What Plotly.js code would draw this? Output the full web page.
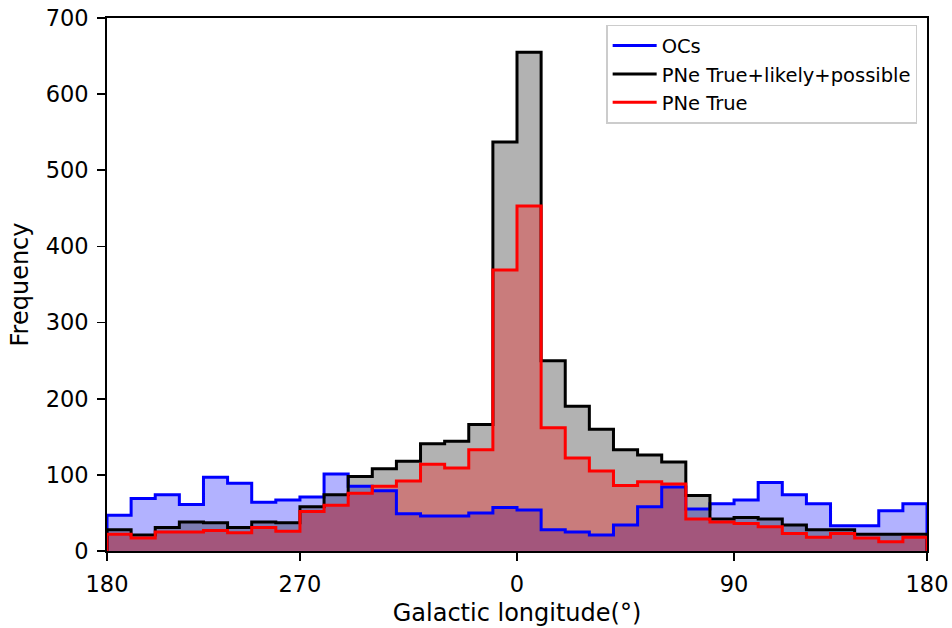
<!DOCTYPE html>
<html>
<head>
<meta charset="utf-8">
<script src="https://cdn.plot.ly/plotly-3.0.1.min.js"></script>
<style>html,body{margin:0;padding:0;background:#fff;}#chart{width:952px;height:628px;}</style>
</head>
<body>
<div id="chart"></div>
<script>
// 34 equal longitude bins, ordered left (l=180) -> right (l=180 wrapped through 270, 0, 90)
const binCount = 34;
const tickPositions = [0, 8, 17, 26, 34];
const tickLabels = ["180", "270", "0", "90", "180"];

const ocCounts = [47, 69, 74, 61, 97, 89, 64, 67, 71, 101, 85, 79, 49, 46, 46, 50, 57,
                  54, 28, 25, 21, 34, 58, 84, 55, 62, 67, 90, 74, 62, 33, 33, 53, 62];
const pneAllCounts = [28, 21, 31, 38, 37, 31, 38, 37, 58, 74, 98, 108, 118, 141, 144, 166, 537,
                      655, 250, 190, 160, 133, 126, 117, 73, 42, 44, 42, 34, 28, 28, 22, 22, 22];
const pneTrueCounts = [22, 17, 25, 25, 27, 24, 31, 26, 52, 60, 76, 85, 92, 114, 109, 133, 369,
                       453, 162, 122, 105, 86, 91, 88, 42, 38, 36, 32, 23, 18, 23, 17, 12, 18];

const seriesNames = ["OCs", "PNe True+likely+possible", "PNe True"];
const lineColors = ["#0000ff", "#000000", "#ff0000"];
const fillColors = ["rgba(0,0,255,0.3)", "rgba(0,0,0,0.3)", "rgba(255,0,0,0.3)"];
const allCounts = [ocCounts, pneAllCounts, pneTrueCounts];

function stepPath(counts) {
  const x = [0];
  const y = [0];
  for (let i = 0; i < counts.length; i++) { x.push(i); y.push(counts[i]); }
  x.push(counts.length); y.push(counts[counts.length - 1]);
  x.push(counts.length); y.push(0);
  return {x, y};
}

const traces = [];
allCounts.forEach((c, i) => {
  const p = stepPath(c);
  traces.push({x: p.x, y: p.y, type: "scatter", mode: "lines", line: {shape: "hv", width: 0, color: lineColors[i]},
    fill: "tozeroy", fillcolor: fillColors[i], showlegend: false, hoverinfo: "skip"});
});
allCounts.forEach((c, i) => {
  const p = stepPath(c);
  traces.push({x: p.x, y: p.y, type: "scatter", mode: "lines", name: seriesNames[i],
    line: {shape: "hv", width: 3, color: lineColors[i]}, showlegend: true});
});

const font = "DejaVu Sans, Verdana, sans-serif";
const axisCommon = {
  showgrid: false, zeroline: false, showline: true, linecolor: "#000", linewidth: 1.8, mirror: true,
  ticks: "outside", ticklen: 8, tickwidth: 1.8, tickcolor: "#000", ticklabelstandoff: 4,
  tickfont: {size: 22.5}
};
const layout = {
  width: 952, height: 628,
  margin: {l: 107, r: 25, t: 18, b: 77},
  paper_bgcolor: "#fff", plot_bgcolor: "#fff",
  font: {family: font, size: 22, color: "#000"},
  xaxis: Object.assign({}, axisCommon, {range: [0, binCount], tickmode: "array", tickvals: tickPositions, ticktext: tickLabels,
    title: {text: "Galactic longitude(°)", font: {size: 24}, standoff: 8}}),
  yaxis: Object.assign({}, axisCommon, {range: [0, 700], tickmode: "array", tickvals: [0,100,200,300,400,500,600,700],
    title: {text: "Frequency", font: {size: 24}, standoff: 10}}),
  legend: {x: 0.988, y: 0.987, xanchor: "right", yanchor: "top", bgcolor: "rgba(255,255,255,0.9)",
    bordercolor: "#cccccc", borderwidth: 1.5, font: {size: 19.5}, tracegroupgap: 0, itemwidth: 44},
  showlegend: true
};

Plotly.newPlot("chart", traces, layout, {staticPlot: true, displayModeBar: false});
</script>
</body>
</html>
